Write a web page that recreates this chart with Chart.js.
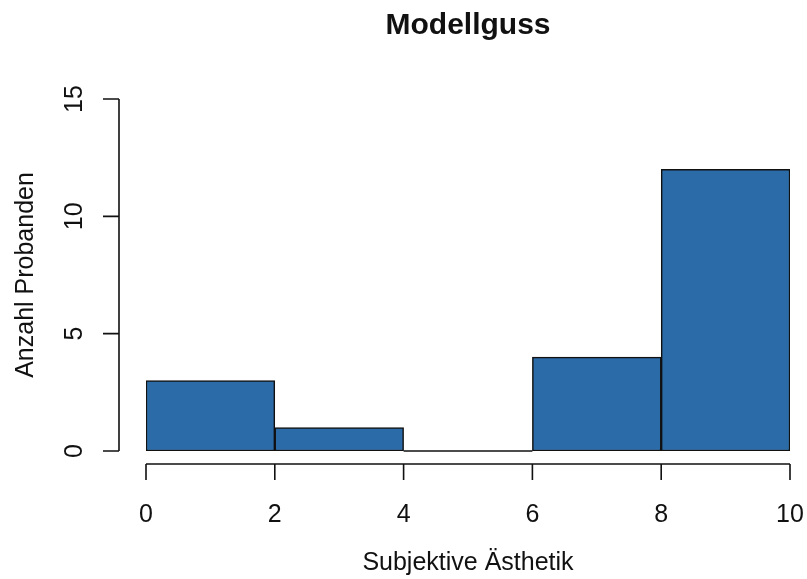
<!DOCTYPE html>
<html>
<head>
<meta charset="utf-8">
<script src="https://cdn.jsdelivr.net/npm/chart.js@4.4.1/dist/chart.umd.min.js"></script>
<style>
  body { margin: 0; background: #fff; }
  #wrap { width: 807px; height: 579px; }
</style>
</head>
<body>
<div id="wrap"><canvas id="hist" width="807" height="579"></canvas></div>
<script>
// histogram data
const binEdges = [0, 2, 4, 6, 8, 10];
const counts = [3, 1, 0, 4, 12];
const xTicks = [0, 2, 4, 6, 8, 10];
const yTicks = [0, 5, 10, 15];

const titleText = 'Modellguss';
const xTitle = 'Subjektive Ästhetik';
const yTitle = 'Anzahl Probanden';

const barColor = '#2b6ca8';
const inkColor = '#111';
const fontFamily = '"Liberation Sans", Arial, sans-serif';

// one point per bin, sitting at the middle of the bin
let points = counts.map((c, i) => ({ x: (binEdges[i] + binEdges[i + 1]) / 2, y: c }));

// base-R style axes, drawn detached from the plot region
const rAxes = {
    id: 'rAxes',
    afterDatasetsDraw(chart) {
        const ctx = chart.ctx;
        const xs = chart.scales.x;
        const ys = chart.scales.y;
        const area = chart.chartArea;

        ctx.save();
        ctx.strokeStyle = inkColor;
        ctx.fillStyle = inkColor;
        ctx.lineWidth = 1.6;

        // empty bins still get their bottom edge
        const meta = chart.getDatasetMeta(0);
        meta.data.forEach((bar, i) => {
            if (counts[i] === 0) {
                ctx.beginPath();
                ctx.moveTo(bar.x - bar.width / 2, bar.base);
                ctx.lineTo(bar.x + bar.width / 2, bar.base);
                ctx.stroke();
            }
        });

        // x axis
        const xAxisY = area.bottom + 13;
        ctx.beginPath();
        ctx.moveTo(xs.getPixelForValue(xTicks[0]), xAxisY);
        ctx.lineTo(xs.getPixelForValue(xTicks[xTicks.length - 1]), xAxisY);
        xTicks.forEach(t => {
            const px = xs.getPixelForValue(t);
            ctx.moveTo(px, xAxisY);
            ctx.lineTo(px, xAxisY + 16);
        });
        ctx.stroke();

        ctx.font = '25px ' + fontFamily;
        ctx.textAlign = 'center';
        ctx.textBaseline = 'alphabetic';
        xTicks.forEach(t => {
            ctx.fillText(String(t), xs.getPixelForValue(t), 522);
        });

        // y axis
        const yAxisX = area.left - 27;
        ctx.beginPath();
        ctx.moveTo(yAxisX, ys.getPixelForValue(yTicks[0]));
        ctx.lineTo(yAxisX, ys.getPixelForValue(yTicks[yTicks.length - 1]));
        yTicks.forEach(t => {
            const py = ys.getPixelForValue(t);
            ctx.moveTo(yAxisX, py);
            ctx.lineTo(yAxisX - 16, py);
        });
        ctx.stroke();

        yTicks.forEach(t => {
            ctx.save();
            ctx.translate(82, ys.getPixelForValue(t));
            ctx.rotate(-Math.PI / 2);
            ctx.fillText(String(t), 0, 0);
            ctx.restore();
        });

        // axis titles
        ctx.fillText(xTitle, (area.left + area.right) / 2, 570);
        ctx.save();
        ctx.translate(33, (area.top + area.bottom) / 2);
        ctx.rotate(-Math.PI / 2);
        ctx.fillText(yTitle, 0, 0);
        ctx.restore();

        // main title
        ctx.font = 'bold 30px ' + fontFamily;
        ctx.fillText(titleText, (area.left + area.right) / 2, 34);

        ctx.restore();
    }
};

new Chart(document.getElementById('hist'), {
    type: 'bar',
    data: {
        datasets: [{
            data: points,
            backgroundColor: barColor,
            borderColor: inkColor,
            borderWidth: 1.5,
            borderSkipped: false,
            barPercentage: 1,
            categoryPercentage: 1
        }]
    },
    options: {
        responsive: false,
        animation: false,
        layout: { padding: { left: 146, right: 17, top: 99, bottom: 128 } },
        plugins: {
            legend: { display: false },
            tooltip: { enabled: false }
        },
        scales: {
            // tick step matches the bin width so bars span the full bin
            x: {
                type: 'linear', min: 0, max: 10, offset: false, display: false,
                ticks: { stepSize: xTicks[1] - xTicks[0] }
            },
            y: { min: 0, max: 15, display: false }
        }
    },
    plugins: [rAxes]
});
</script>
</body>
</html>
